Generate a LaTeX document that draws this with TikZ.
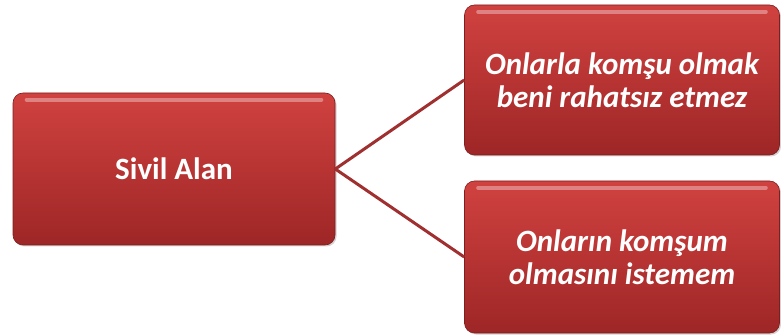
\documentclass[tikz,border=0pt]{standalone}
\usepackage{fontspec}
\setmainfont{Carlito}
\usetikzlibrary{shadows}
\definecolor{boxtop}{RGB}{208,66,64}
\definecolor{boxbot}{RGB}{158,38,38}
\definecolor{linkred}{RGB}{160,48,48}
\begin{document}
\begin{tikzpicture}[x=1pt,y=-1pt,
  redbox/.style={rounded corners=10pt, top color=boxtop, bottom color=boxbot,
    draw=boxbot!80!black, line width=0.6pt, text=white, font=\bfseries\fontsize{31}{33}\selectfont,
    align=center, drop shadow={shadow xshift=1.5pt, shadow yshift=-1.5pt, opacity=0.35}},
  link/.style={draw=linkred, line width=3pt}
]
\useasboundingbox (0,0) rectangle (781,336);
\node[redbox, minimum width=322pt, minimum height=152pt] (a) at (174,169) {Sivil Alan};
\node[redbox, minimum width=315pt, minimum height=150pt, font=\bfseries\itshape\fontsize{31}{33}\selectfont] (b) at (622,80) {Onlarla komşu olmak\\beni rahatsız etmez};
\node[redbox, minimum width=315pt, minimum height=152pt, font=\bfseries\itshape\fontsize{31}{33}\selectfont] (c) at (622,257) {Onların komşum\\olmasını istemem};
\foreach \n in {a,b,c}{
  \draw[white, opacity=0.35, line width=4pt, line cap=round] ([xshift=14pt,yshift=-7pt]\n.north west) -- ([xshift=-14pt,yshift=-7pt]\n.north east);
}
\draw[link] (a.east) -- (b.west);
\draw[link] (a.east) -- (c.west);
\end{tikzpicture}
\end{document}
